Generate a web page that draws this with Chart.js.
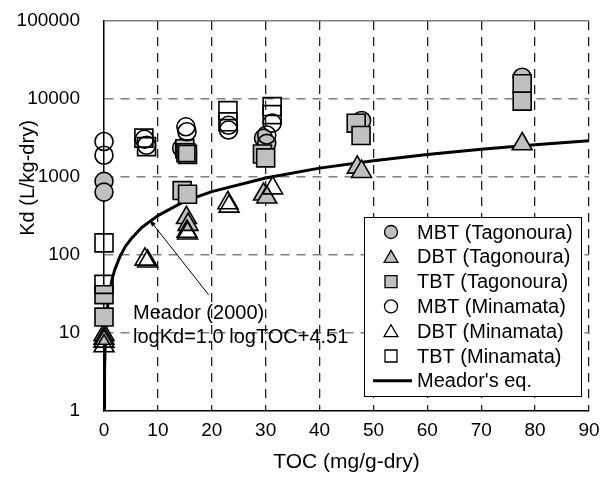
<!DOCTYPE html>
<html>
<head>
<meta charset="utf-8">
<script src="https://cdn.jsdelivr.net/npm/chart.js@4.4.1/dist/chart.umd.min.js"></script>
<style>
  html, body { margin: 0; padding: 0; background: #fff; }
  canvas { display: block; }
</style>
</head>
<body>
<canvas id="myChart" width="606" height="483"></canvas>
<script>
var xTicks = [0, 10, 20, 30, 40, 50, 60, 70, 80, 90];
var yTicks = [1, 10, 100, 1000, 10000, 100000];

var seriesNames = ['MBT (Tagonoura)', 'DBT (Tagonoura)', 'TBT (Tagonoura)',
                   'MBT (Minamata)', 'DBT (Minamata)', 'TBT (Minamata)', "Meador's eq."];

// TOC (mg/g-dry) and Kd (L/kg-dry)
var mbtTagoTOC = [0, 0, 14.4, 15.5, 29.6, 30.2, 47.8, 77.6];
var mbtTagoKd  = [880, 640, 2350, 2000, 3150, 2700, 5300, 19000];

var dbtTagoTOC = [0, 0, 15.3, 15.6, 29.6, 30.2, 47.0, 47.8, 77.6];
var dbtTagoKd  = [9.5, 8.5, 300, 245, 600, 550, 1330, 1170, 2650];

var tbtTagoTOC = [0, 0, 14.5, 15.5, 15.0, 15.5, 29.4, 30.0, 46.8, 47.7, 77.6, 77.6];
var tbtTagoKd  = [31, 16, 670, 600, 2300, 1950, 1970, 1760, 4900, 3400, 15700, 9400];

var mbtMinaTOC = [0, 0, 7.5, 7.9, 15.2, 15.4, 23.1, 23.1, 30.2, 31.2];
var mbtMinaKd  = [2850, 1900, 3050, 2550, 4400, 3800, 4600, 4000, 3450, 4900];

var dbtMinaTOC = [0, 0, 7.6, 8.1, 15.4, 15.5, 23.0, 23.2, 31.3];
var dbtMinaKd  = [7.8, 6.8, 88, 83, 200, 190, 465, 420, 720];

var tbtMinaTOC = [0, 0, 7.4, 7.9, 15.2, 23.0, 23.0, 31.2, 31.2];
var tbtMinaKd  = [143, 42, 3150, 2450, 2050, 7100, 5100, 8000, 6300];

// Meador (2000) curve
var meadorTOC = [0.03, 0.1, 0.2, 0.3, 0.5, 0.7, 1, 1.5, 2, 3, 4, 5, 7, 10, 15, 20, 30, 40, 50, 60, 70, 80, 90];
var meadorKd  = [1, 3.2, 6.5, 9.7, 16, 23, 32, 49, 65, 97, 130, 160, 225, 320, 490, 650, 970, 1300, 1620, 1940, 2270, 2590, 2910];

var FONT = '"Liberation Sans", Arial, sans-serif';
var gray = '#c0c0c0';
var none = 'rgba(0,0,0,0)';

Chart.defaults.font.family = FONT;
Chart.defaults.color = '#000';

function pts(xs, ys) {
  return xs.map(function (x, i) { return { x: x, y: ys[i] }; });
}

function marker(label, xs, ys, style, radius, fill, order) {
  return {
    label: label,
    data: pts(xs, ys),
    pointStyle: style,
    pointRadius: radius,
    pointHoverRadius: radius,
    pointBackgroundColor: fill,
    pointBorderColor: '#000',
    pointBorderWidth: 1.6,
    backgroundColor: fill,
    borderColor: '#000',
    borderWidth: 1.6,
    showLine: false,
    clip: false,
    order: order
  };
}

// small shapes for the legend
function drawShape(c, style, x, y, r, fill) {
  c.beginPath();
  if (style === 'circle') {
    c.arc(x, y, r, 0, Math.PI * 2);
  } else if (style === 'triangle') {
    c.moveTo(x, y - r);
    c.lineTo(x + r * 0.866, y + r * 0.5);
    c.lineTo(x - r * 0.866, y + r * 0.5);
    c.closePath();
  } else {
    c.rect(x - r, y - r, 2 * r, 2 * r);
  }
  c.fillStyle = fill;
  c.fill();
  c.lineWidth = 1.3;
  c.strokeStyle = '#000';
  c.stroke();
}

var arrowFrom = { x: 19.4, y: 31 };
var arrowTo = { x: 8.5, y: 280 };

var overlay = {
  id: 'overlay',
  afterDraw: function (chart) {
    var c = chart.ctx;
    var sx = chart.scales.x, sy = chart.scales.y;

    // y axis title
    c.save();
    c.font = '20px ' + FONT;
    c.fillStyle = '#000';
    c.translate(28, 178);
    c.rotate(-Math.PI / 2);
    c.textAlign = 'center';
    c.textBaseline = 'middle';
    c.fillText('Kd (L/kg-dry)', 0, 0);
    c.restore();

    // annotation + arrow
    c.save();
    var x1 = sx.getPixelForValue(arrowFrom.x), y1 = sy.getPixelForValue(arrowFrom.y);
    var x2 = sx.getPixelForValue(arrowTo.x), y2 = sy.getPixelForValue(arrowTo.y);
    c.strokeStyle = '#000';
    c.lineWidth = 1;
    c.beginPath();
    c.moveTo(x1, y1);
    c.lineTo(x2, y2);
    c.stroke();
    var a = Math.atan2(y2 - y1, x2 - x1);
    c.beginPath();
    c.moveTo(x2, y2);
    c.lineTo(x2 - 7 * Math.cos(a - 0.35), y2 - 7 * Math.sin(a - 0.35));
    c.lineTo(x2 - 7 * Math.cos(a + 0.35), y2 - 7 * Math.sin(a + 0.35));
    c.closePath();
    c.fillStyle = '#000';
    c.fill();
    c.font = '20px ' + FONT;
    c.textAlign = 'left';
    c.textBaseline = 'middle';
    c.fillText('Meador (2000)', 133, 313);
    c.fillText('logKd=1.0 logTOC+4.51', 133, 337);
    c.restore();

    // legend
    c.save();
    var L = 364, T = 217, R = 581, B = 396;
    c.fillStyle = '#fff';
    c.fillRect(L, T, R - L, B - T);
    c.strokeStyle = '#000';
    c.lineWidth = 1;
    c.strokeRect(L + 0.5, T + 0.5, R - L, B - T);
    var styles = ['circle', 'triangle', 'rect', 'circle', 'triangle', 'rect'];
    var fills = [gray, gray, gray, '#fff', '#fff', '#fff'];
    var sizes = [6.5, 8, 6, 6.5, 8, 6];
    c.font = '20px ' + FONT;
    c.textBaseline = 'middle';
    c.textAlign = 'left';
    for (var i = 0; i < seriesNames.length; i++) {
      var ry = 232 + i * 24.8;
      if (i < 6) {
        drawShape(c, styles[i], 391, ry + (styles[i] === 'triangle' ? 1.5 : 0), sizes[i], fills[i]);
      } else {
        c.beginPath();
        c.moveTo(373, ry);
        c.lineTo(412, ry);
        c.lineWidth = 3;
        c.strokeStyle = '#000';
        c.stroke();
      }
      c.fillStyle = '#000';
      c.fillText(seriesNames[i], 417, ry + 1);
    }
    c.restore();
  }
};

var ctx = document.getElementById('myChart').getContext('2d');

var chart = new Chart(ctx, {
  type: 'scatter',
  data: {
    datasets: [
      marker(seriesNames[0], mbtTagoTOC, mbtTagoKd, 'circle', 9, gray, 6),
      marker(seriesNames[1], dbtTagoTOC, dbtTagoKd, 'triangle', 11.5, gray, 5),
      marker(seriesNames[2], tbtTagoTOC, tbtTagoKd, 'rect', 12.7, gray, 4),
      marker(seriesNames[3], mbtMinaTOC, mbtMinaKd, 'circle', 9, none, 3),
      marker(seriesNames[4], dbtMinaTOC, dbtMinaKd, 'triangle', 11.5, none, 2),
      marker(seriesNames[5], tbtMinaTOC, tbtMinaKd, 'rect', 12.7, none, 1),
      {
        label: seriesNames[6],
        data: pts(meadorTOC, meadorKd),
        showLine: true,
        fill: false,
        tension: 0,
        pointRadius: 0,
        borderColor: '#000',
        borderWidth: 3,
        borderJoinStyle: 'round',
        order: 7
      }
    ]
  },
  options: {
    responsive: false,
    animation: false,
    devicePixelRatio: 1,
    layout: { autoPadding: false, padding: { top: 21, right: 17, left: 0, bottom: 0 } },
    plugins: {
      legend: { display: false },
      tooltip: { enabled: false }
    },
    scales: {
      x: {
        type: 'linear',
        min: 0,
        max: 90,
        afterBuildTicks: function (s) { s.ticks = xTicks.map(function (v) { return { value: v }; }); },
        afterFit: function (s) { s.height = 72; },
        grid: {
          color: function (c) { return c.tick && c.tick.value === 0 ? none : '#222'; },
          lineWidth: 1.3,
          drawTicks: true,
          tickLength: 8,
          tickColor: none
        },
        border: { display: true, color: '#000', width: 1.5, dash: [9, 7] },
        ticks: { color: '#000', font: { size: 19 }, padding: 0, maxRotation: 0, autoSkip: false },
        title: {
          display: true,
          text: 'TOC (mg/g-dry)',
          color: '#000',
          font: { size: 21 },
          padding: { top: 0, bottom: 8 }
        }
      },
      y: {
        type: 'logarithmic',
        min: 1,
        max: 100000,
        afterBuildTicks: function (s) { s.ticks = yTicks.map(function (v) { return { value: v }; }); },
        afterFit: function (s) { s.width = 104; },
        grid: {
          color: function (c) { return c.tick && c.tick.value === 1 ? none : '#808080'; },
          lineWidth: 1.5,
          drawTicks: true,
          tickLength: 24,
          tickColor: none
        },
        border: {
          display: true,
          color: '#000',
          width: 1.5,
          dash: function (c) { return c.tick && c.tick.value === 100000 ? [] : [9, 7]; }
        },
        ticks: {
          color: '#000',
          font: { size: 19 },
          padding: 0,
          callback: function (v) { return String(v); }
        }
      }
    }
  },
  plugins: [overlay]
});
</script>
</body>
</html>
